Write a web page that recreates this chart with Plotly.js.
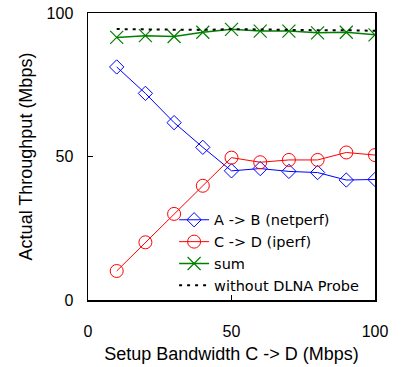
<!DOCTYPE html>
<html><head><meta charset="utf-8">
<script src="https://cdn.plot.ly/plotly-3.0.1.min.js"></script>
<style>html,body{margin:0;padding:0;background:#fff}#c{width:415px;height:367px}</style>
</head><body><div id="c"></div>
<script>
const bandwidth = [10, 20, 30, 40, 50, 60, 70, 80, 90, 100];
const netperfAB = [81.2, 72.0, 61.8, 53.2, 45.0, 45.8, 44.8, 44.4, 41.8, 42.0];
const iperfCD = [10.1, 20.1, 30.0, 39.8, 49.6, 48.0, 48.8, 48.8, 51.4, 50.5];
const sumTotal = [91.5, 92.1, 91.8, 93.3, 94.3, 93.7, 93.7, 93.1, 93.3, 92.4];
const withoutProbe = [94.4, 94.3, 94.3, 94.1, 94.4, 94.2, 94.0, 94.0, 94.0, 93.8];
const xTicks = [0, 50, 100];
const yTicks = [0, 50, 100];

const F = '"Liberation Sans", Arial, sans-serif';
const FL = '"DejaVu Sans", "Liberation Sans", sans-serif';
const traces = [
  {x: bandwidth, y: netperfAB, name: 'A -> B (netperf)', mode: 'lines+markers',
   line: {color: '#0000ff', width: 1}, marker: {symbol: 'diamond-open', size: 11, color: '#0000ff', line: {width: 1}}},
  {x: bandwidth, y: iperfCD, name: 'C -> D (iperf)', mode: 'lines+markers',
   line: {color: '#ff0000', width: 1}, marker: {symbol: 'circle-open', size: 13, color: '#ff0000', line: {width: 1}}},
  {x: bandwidth, y: sumTotal, name: 'sum', mode: 'lines+markers',
   line: {color: '#008000', width: 1.5}, marker: {symbol: 'x-thin-open', size: 13, color: '#008000', line: {width: 1.2, color: '#008000'}}},
  {x: bandwidth, y: withoutProbe, name: 'without DLNA Probe', mode: 'lines',
   line: {color: '#000000', width: 2, dash: '3px,5px'}}
];
const layout = {
  width: 415, height: 367,
  margin: {l: 88, r: 40, t: 13, b: 67},
  paper_bgcolor: '#fff', plot_bgcolor: '#fff',
  font: {family: F, size: 16, color: '#000'},
  showlegend: true,
  legend: {x: 0.3, y: 0.335, xanchor: 'left', yanchor: 'top', bgcolor: 'rgba(0,0,0,0)',
           font: {family: FL, size: 14.5}, tracegroupgap: 0},
  xaxis: {range: [0, 100], tickvals: xTicks, ticks: 'inside', ticklen: 5, tickcolor: '#000',
          showgrid: false, zeroline: false, showline: true, linecolor: '#000', linewidth: 1.5, mirror: true,
          ticklabelstandoff: 16, tickfont: {size: 16},
          title: {text: 'Setup Bandwidth C -> D (Mbps)', font: {size: 18}, standoff: 8}},
  yaxis: {range: [0, 100], tickvals: yTicks, ticks: 'inside', ticklen: 5, tickcolor: '#000',
          showgrid: false, zeroline: false, showline: true, linecolor: '#000', linewidth: 1.5, mirror: true,
          ticklabelstandoff: 10, tickfont: {size: 16},
          title: {text: 'Actual Throughput (Mbps)', font: {size: 18}, standoff: 9}}
};
Plotly.newPlot('c', traces, layout, {displayModeBar: false, staticPlot: true});
</script></body></html>
